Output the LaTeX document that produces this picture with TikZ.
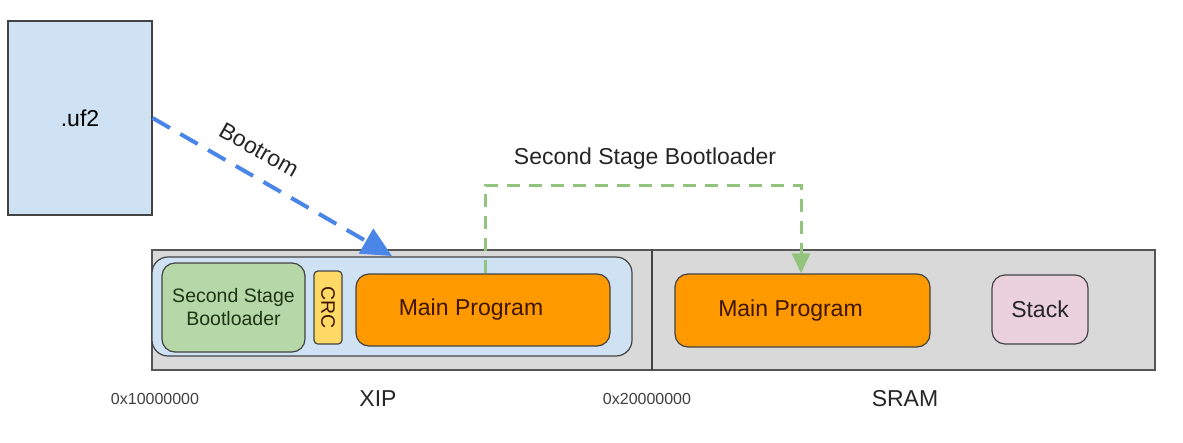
\documentclass[tikz,border=0pt]{standalone}
\usepackage{fontspec}
\setmainfont{Liberation Sans}
\usetikzlibrary{arrows.meta}
\definecolor{lblue}{HTML}{CFE2F3}
\definecolor{memgray}{HTML}{D9D9D9}
\definecolor{lgreen}{HTML}{B6D7A8}
\definecolor{lyellow}{HTML}{FFD966}
\definecolor{orangeA}{HTML}{FF9900}
\definecolor{lpink}{HTML}{EAD1DC}
\definecolor{arrblue}{HTML}{4A86E8}
\definecolor{arrgreen}{HTML}{93C47D}
\definecolor{edge}{HTML}{434343}
\definecolor{brownT}{HTML}{3E1600}
\definecolor{greenT}{HTML}{1E3514}
\tikzset{
  box/.style={draw=edge, line width=1.2pt, inner sep=0pt, align=center},
  bigfont/.style={font=\fontsize{23}{26}\selectfont},
  midfont/.style={font=\fontsize{19.5}{23}\selectfont},
  addrfont/.style={font=\fontsize{16}{19}\selectfont, text=black!75},
  bootarrow/.style={draw=arrblue, line width=4pt, dash pattern=on 20pt off 12pt,
    -{Triangle[length=30pt,width=28pt]}},
  ssbarrow/.style={draw=arrgreen, line width=3pt, dash pattern=on 13pt off 9pt,
    -{Triangle[length=20pt,width=18pt]}},
}
\begin{document}
\begin{tikzpicture}[x=1pt,y=-1pt]
\useasboundingbox[fill=white] (0,0) rectangle (1183,442);
% .uf2 file
\node[box, fill=lblue, minimum width=144pt, minimum height=194pt, bigfont] (uf2) at (80,118) {.uf2};
% memory map
\node[box, fill=memgray, draw=edge!90, minimum width=1003pt, minimum height=120pt] (mem) at (653.5,310) {};
\coordinate (div) at (652,310);
\draw[edge, line width=1.2pt] (div |- mem.north) -- (div |- mem.south);
\node[box, fill=lblue, rounded corners=16pt, minimum width=480pt, minimum height=99pt] (xip) at (392,306.5) {};
\node[box, fill=lgreen, rounded corners=13pt, minimum width=143pt, minimum height=89pt, midfont, text=greenT] (ssb) at (233.5,307.5) {Second Stage\\Bootloader};
\node[box, fill=lyellow, rounded corners=4pt, minimum width=28pt, minimum height=73pt] (crcbox) at (328,307.5) {};
\node[rotate=-90, midfont, text=brownT] (crc) at (crcbox.center) {CRC};
\node[box, fill=orangeA, rounded corners=13pt, minimum width=254pt, minimum height=72pt, bigfont, text=brownT] (mp1) at (483,310) {\hspace*{-24pt}Main Program};
\node[box, fill=orangeA, rounded corners=13pt, minimum width=255pt, minimum height=73pt, bigfont, text=brownT] (mp2) at (802.5,310.5) {\raisebox{5pt}{\hspace*{-24pt}Main Program}};
\node[box, fill=lpink, rounded corners=13pt, minimum width=96pt, minimum height=69pt, bigfont, text=black!85] (stack) at (1040,309.5) {Stack};
% Bootrom arrow
\coordinate (bt) at (392,256);
\draw[bootarrow] (uf2.east) -- (bt);
\node[bigfont, rotate=-29.5, text=black!85] (bootlbl) at (259,150) {Bootrom};
% second stage arrow
\coordinate (g1) at (485,185);
\coordinate (g2) at (801,185);
\draw[ssbarrow] (g1 |- mp1.north) -- (g1) -- (g2) -- (g2 |- mp2.north);
\node[bigfont, text=black!85] (sslbl) at (645,159) {Second Stage Bootloader};
% bottom labels
\node[addrfont] (a1) at (155,399) {0x10000000};
\node[bigfont, text=black!85] (xiplbl) at (378,399) {XIP};
\node[addrfont] (a2) at (647,399) {0x20000000};
\node[bigfont, text=black!85] (sramlbl) at (905,399) {SRAM};
\end{tikzpicture}
\end{document}
